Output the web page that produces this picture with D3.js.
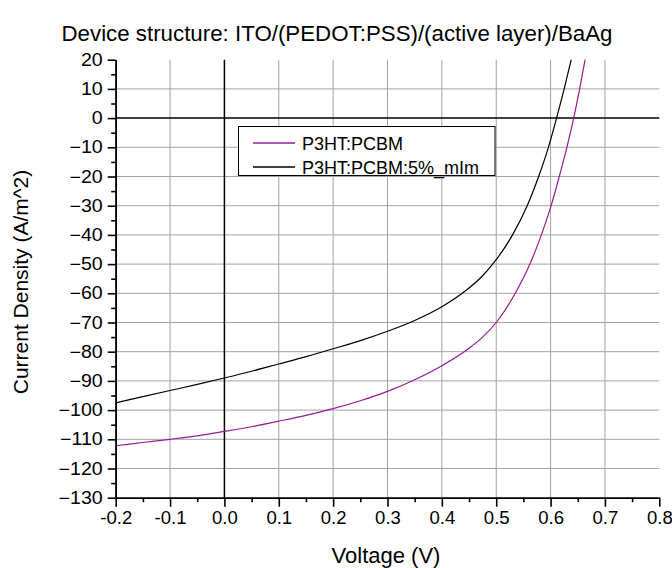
<!DOCTYPE html>
<html>
<head>
<meta charset="utf-8">
<script src="https://cdn.jsdelivr.net/npm/d3@7"></script>
<style>
  body { margin: 0; background: #fff; }
  text { font-family: "Liberation Sans", Arial, sans-serif; fill: #000; }
</style>
</head>
<body>
<div id="chart"></div>
<script>
// J-V curves
const voltA = [-0.2, -0.15, -0.1, -0.05, 0, 0.05, 0.1, 0.15, 0.2, 0.25, 0.3, 0.35, 0.4, 0.45, 0.475, 0.5, 0.535, 0.562, 0.583, 0.601, 0.616, 0.63, 0.6425, 0.6535, 0.6635];
const curA = [-112.2, -111.1, -110.0, -108.8, -107.3, -105.7, -103.8, -101.8, -99.5, -96.8, -93.6, -89.6, -84.8, -78.8, -75.0, -70.0, -60, -50, -40, -30, -20, -10, 0, 10, 20];
const voltB = [-0.2, -0.15, -0.1, -0.05, 0, 0.05, 0.1, 0.15, 0.2, 0.25, 0.3, 0.35, 0.4, 0.45, 0.475, 0.5, 0.53, 0.557, 0.578, 0.596, 0.611, 0.625, 0.638];
const curB = [-97.5, -95.4, -93.3, -91.2, -89.0, -86.7, -84.2, -81.7, -79.0, -76.2, -73.0, -69.3, -64.6, -58.2, -54.0, -48.5, -40, -30, -20, -10, 0, 10, 20];
const seriesNames = ["P3HT:PCBM", "P3HT:PCBM:5%_mIm"];
const seriesColors = ["#961b96", "#000000"];
const xTicks = [-0.2, -0.1, 0, 0.1, 0.2, 0.3, 0.4, 0.5, 0.6, 0.7, 0.8];
const yTicks = [20, 10, 0, -10, -20, -30, -40, -50, -60, -70, -80, -90, -100, -110, -120, -130];

const w = 672, h = 568;

const svg = d3.select("#chart").append("svg").attr("width", w).attr("height", h);

const x = d3.scaleLinear().domain([-0.2, 0.8]).range([115.7, 659.3]);
const y = d3.scaleLinear().domain([-130, 20]).range([497.7, 59.7]);

// tick labels in the picture are drawn a little wide
function widen(sel, s) {
  sel.each(function () {
    const len = this.getComputedTextLength();
    d3.select(this).attr("textLength", len * s).attr("lengthAdjust", "spacingAndGlyphs");
  });
}

// grid
const grid = svg.append("g").attr("stroke", "#a3a3a3").attr("stroke-width", 1);
grid.selectAll(".vg")
  .data(xTicks.filter(d => d > -0.2 && d < 0.8 && d !== 0))
  .join("line")
  .attr("x1", d => x(d)).attr("x2", d => x(d))
  .attr("y1", y(20)).attr("y2", y(-130));
grid.selectAll(".hg")
  .data(yTicks.filter(d => d > -130 && d < 20 && d !== 0))
  .join("line")
  .attr("x1", x(-0.2)).attr("x2", x(0.8))
  .attr("y1", d => y(d)).attr("y2", d => y(d));

// zero lines
svg.append("line").attr("x1", x(0)).attr("x2", x(0)).attr("y1", y(20)).attr("y2", y(-130))
  .attr("stroke", "#000").attr("stroke-width", 1.5);
svg.append("line").attr("x1", x(-0.2)).attr("x2", x(0.8)).attr("y1", y(0)).attr("y2", y(0))
  .attr("stroke", "#000").attr("stroke-width", 1.5);

// curves
const line = d3.line().x(d => x(d[0])).y(d => y(d[1])).curve(d3.curveMonotoneX);
const seriesData = [d3.zip(voltA, curA), d3.zip(voltB, curB)];
svg.selectAll(".curve")
  .data(seriesData)
  .join("path")
  .attr("fill", "none")
  .attr("stroke", (d, i) => seriesColors[i])
  .attr("stroke-width", 1.2)
  .attr("d", line);

// axes
const xAxis = d3.axisBottom(x).tickValues(xTicks).tickSize(9).tickSizeOuter(0).tickPadding(5)
  .tickFormat(d => d.toFixed(1));
const xMinor = d3.axisBottom(x).tickValues(d3.range(-0.15, 0.8, 0.1)).tickSize(4.5).tickSizeOuter(0).tickFormat("");
const yAxis = d3.axisLeft(y).tickValues(yTicks).tickSize(8).tickSizeOuter(0).tickPadding(5);
const yMinor = d3.axisLeft(y).tickValues(d3.range(-125, 20, 10)).tickSize(4.5).tickSizeOuter(0).tickFormat("");

const gx = svg.append("g").attr("transform", `translate(0,${y(-130)})`).call(xAxis);
svg.append("g").attr("transform", `translate(0,${y(-130)})`).call(xMinor);
const gy = svg.append("g").attr("transform", `translate(${x(-0.2)},0)`).call(yAxis);
svg.append("g").attr("transform", `translate(${x(-0.2)},0)`).call(yMinor);

svg.selectAll(".domain, .tick line").attr("stroke", "#000").attr("stroke-width", 1.6);
gx.selectAll("text").style("font-size", "17.5px").attr("fill", "#000");
gy.selectAll("text").style("font-size", "17.5px").attr("fill", "#000");
widen(gx.selectAll("text"), 1.06);
widen(gy.selectAll("text"), 1.12);

// title and labels
svg.append("text").attr("x", 337).attr("y", 41).attr("text-anchor", "middle")
  .style("font-size", "22.3px").text("Device structure: ITO/(PEDOT:PSS)/(active layer)/BaAg");

svg.append("text").attr("x", 386).attr("y", 563).attr("text-anchor", "middle")
  .style("font-size", "22px").text("Voltage (V)");

svg.append("text")
  .attr("transform", "translate(28,282) rotate(-90)")
  .attr("text-anchor", "middle")
  .style("font-size", "21px")
  .text("Current Density (A/m^2)");

// legend
const leg = svg.append("g");
leg.append("rect").attr("x", 238.5).attr("y", 126.5).attr("width", 256.5).attr("height", 49)
  .attr("fill", "#fff").attr("stroke", "#000").attr("stroke-width", 1);
seriesNames.forEach((name, i) => {
  const ry = 143 + i * 24;
  leg.append("line").attr("x1", 253).attr("x2", 295).attr("y1", ry).attr("y2", ry)
    .attr("stroke", seriesColors[i]).attr("stroke-width", 1.4);
  leg.append("text").attr("x", 302).attr("y", ry + 7).style("font-size", "18px").text(name);
});
</script>
</body>
</html>
